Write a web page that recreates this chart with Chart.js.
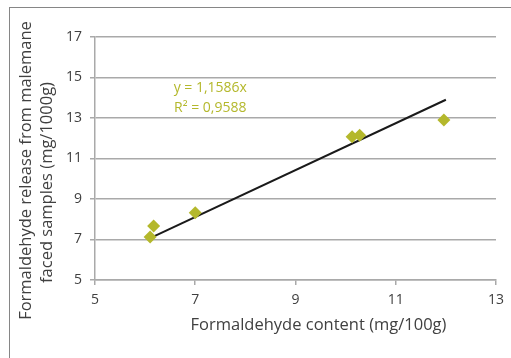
<!DOCTYPE html>
<html>
<head>
<meta charset="utf-8">
<script src="https://cdn.jsdelivr.net/npm/chart.js@4.4.0/dist/chart.umd.min.js"></script>
<style>
  body { margin: 0; background: #fff; }
  #wrap { position: relative; width: 511px; height: 358px; }
  #frame { position: absolute; left: 9px; top: 7px; right: -2px; bottom: -2px;
           border-left: 1px solid #868686; border-top: 1px solid #868686; pointer-events: none; }
</style>
</head>
<body>
<div id="wrap">
  <canvas id="scatterChart" width="511" height="358"></canvas>
  <div id="frame"></div>
</div>

<script type="text/javascript">

// measured points
var contentX = [6.1, 6.17, 7.0, 10.13, 10.28, 11.96];
var releaseY = [7.12, 7.67, 8.32, 12.08, 12.15, 12.9];

// linear trendline (y = 1,1586x) end points
var trendX = [6.1, 12.0];
var trendY = [7.07, 13.9];

var xTicks = [5, 7, 9, 11, 13];
var yTicks = [5, 7, 9, 11, 13, 15, 17];

var xTitle = 'Formaldehyde content (mg/100g)';
var yTitle = ['Formaldehyde release from malemane', 'faced samples (mg/1000g)'];
var eqLines = ['y = 1,1586x', 'R\u00b2 = 0,9588'];

var olive = '#b4b82c';
var gridGray = '#a9a9a9';
var textGray = '#404040';
var fontFam = "'Open Sans', 'Liberation Sans', sans-serif";

function toPoints(xs, ys) {
	var pts = [];
	for (var i = 0; i < xs.length; i++) pts.push({x: xs[i], y: ys[i]});
	return pts;
}

// equation text + axis titles
var extraText = {
	id: 'extraText',
	afterDraw: function(chart) {
		var ctx = chart.ctx;
		var xs = chart.scales.x, ys = chart.scales.y;
		var area = chart.chartArea;
		ctx.save();
		ctx.textAlign = 'center';
		ctx.textBaseline = 'middle';

		ctx.fillStyle = olive;
		ctx.font = '14px ' + fontFam;
		ctx.fillText(eqLines[0], xs.getPixelForValue(7.3), ys.getPixelForValue(14.47));
		ctx.fillText(eqLines[1], xs.getPixelForValue(7.3), ys.getPixelForValue(13.5));

		ctx.fillStyle = textGray;
		ctx.font = '16.5px ' + fontFam;
		ctx.fillText(xTitle, (area.left + area.right) / 2 + 23, area.bottom + 45);

		var midY = (area.top + area.bottom) / 2;
		ctx.translate(26, midY + 12);
		ctx.rotate(-Math.PI / 2);
		ctx.fillText(yTitle[0], 0, 0);
		ctx.fillText(yTitle[1], -12, 21);
		ctx.restore();
	}
};

var ctx = document.getElementById('scatterChart').getContext('2d');
var myChart = new Chart(ctx, {
	type: 'scatter',
	data: {
		datasets: [{
			label: 'Trend',
			type: 'line',
			data: toPoints(trendX, trendY),
			borderColor: '#1a1a1a',
			borderWidth: 2,
			pointRadius: 0,
			fill: false,
			order: 2
		}, {
			label: 'Samples',
			data: toPoints(contentX, releaseY),
			backgroundColor: olive,
			borderColor: olive,
			borderWidth: 0,
			pointStyle: 'rectRot',
			pointRadius: 6.5,
			order: 1
		}]
	},
	options: {
		responsive: false,
		animation: false,
		layout: { padding: { left: 0, right: 14, top: 37, bottom: 0 } },
		plugins: { legend: { display: false }, tooltip: { enabled: false } },
		scales: {
			x: {
				type: 'linear',
				min: 5, max: 13,
				afterBuildTicks: function(s) { s.ticks = xTicks.map(function(v) { return {value: v}; }); },
				afterFit: function(s) { s.height = 78; },
				grid: { drawOnChartArea: false, color: gridGray, tickLength: 5, lineWidth: 1.5 },
				border: { color: gridGray, width: 1.5 },
				ticks: { color: textGray, font: { size: 14, family: fontFam }, padding: 7, maxRotation: 0 }
			},
			y: {
				type: 'linear',
				min: 5, max: 17,
				afterBuildTicks: function(s) { s.ticks = yTicks.map(function(v) { return {value: v}; }); },
				afterFit: function(s) { s.width = 95; },
				grid: { color: gridGray, tickLength: 5, lineWidth: 1.5 },
				border: { color: gridGray, width: 1.5 },
				ticks: { color: textGray, font: { size: 14, family: fontFam }, padding: 8 }
			}
		}
	},
	plugins: [extraText]
});
</script>
</body>
</html>
